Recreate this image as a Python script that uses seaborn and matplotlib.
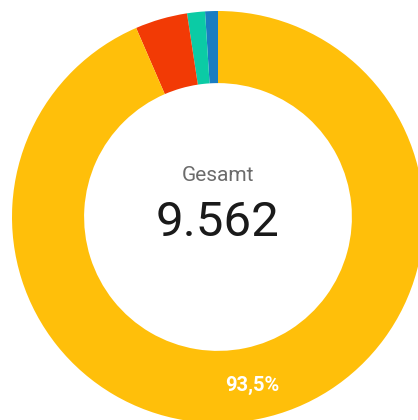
import numpy as np
import matplotlib.pyplot as plt
import seaborn as sns

# Daten
labels = ['Blau', 'Türkis', 'Rot', 'Gelb']
counts = [96, 134, 392, 8940]
colors = ['#1A7DC2', '#0BCBA5', '#F23A05', '#FFBF0A']
total_label = 'Gesamt'
total_text = '9.562'

sns.set_theme(style='white')
plt.rcParams['font.family'] = ['Roboto', 'DejaVu Sans']

fig = plt.figure(figsize=(4.18, 4.20), dpi=100)
ax = fig.add_axes([12 / 418, -3 / 420, 412 / 418, 412 / 420])

wedges, _ = ax.pie(counts, colors=colors, startangle=90, counterclock=True,
                   radius=1.0, wedgeprops=dict(width=0.35, linewidth=0))

# Prozent nur für das größte Segment
total = sum(counts)
share = counts[-1] / total * 100
w = wedges[-1]
mid = np.deg2rad((w.theta1 + w.theta2) / 2)
ax.text(0.825 * np.cos(mid), 0.825 * np.sin(mid) - 0.01, f'{share:.1f}%'.replace('.', ','),
        ha='center', va='center', color='white', fontsize=14.5, fontweight='bold')

ax.text(0, 0.2, total_label, ha='center', va='center', fontsize=15, color='#6b6b6b')
ax.text(0, -0.03, total_text, ha='center', va='center', fontsize=35.5,
        color='#1a1a1a')

ax.set_xlim(-1, 1)
ax.set_ylim(-1, 1)
ax.set_aspect('equal')
ax.axis('off')

fig.savefig('out.png', dpi=100)
